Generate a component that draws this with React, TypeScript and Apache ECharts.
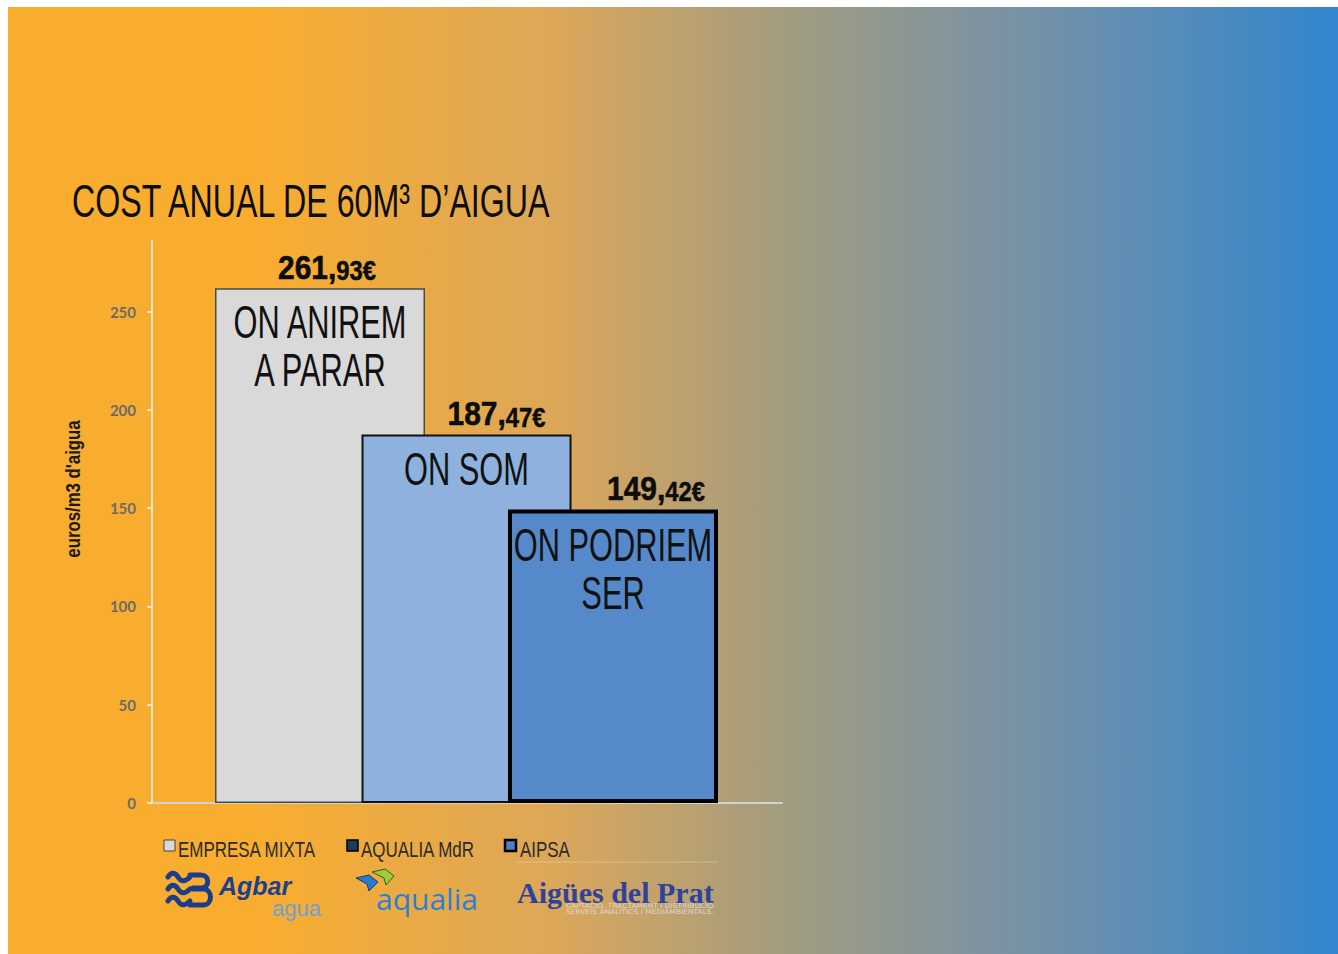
import React, { useEffect, useRef } from "react";
import * as echarts from "echarts";

// ---- data ----
const categories = ["EMPRESA MIXTA", "AQUALIA MdR", "AIPSA"];
const barValues = [261.93, 187.47, 149.42];
const barTexts = ["ON ANIREM\nA PARAR", "ON SOM", "ON PODRIEM\nSER"];
const barPositions = [1, 2, 3];
const yTicks = [0, 50, 100, 150, 200, 250];
const yMax = 286;
const titleText = "COST ANUAL DE 60M³ D’AIGUA";
const yAxisTitle = "euros/m3 d'aigua";

// ---- styles / layout ----
const SANS = "'Liberation Sans', Arial, sans-serif";
const barStyles = [
  { color: "#d9d9d9", borderColor: "#4a4a4a", borderWidth: 1.5 },
  { color: "#8eb1de", borderColor: "#111111", borderWidth: 2 },
  { color: "#5589c9", borderColor: "#000000", borderWidth: 4 },
];
const legendStyles = [
  { fill: "#d9d9d9", stroke: "#444444", lineWidth: 1 },
  { fill: "#1f3a60", stroke: "#000000", lineWidth: 1.5 },
  { fill: "#4d7fc0", stroke: "#000000", lineWidth: 2.5 },
];
const legendIconX = [164, 347, 505];
const legendTextX = [178, 361, 520];
const innerLabelDistance = [10, 11, 12];
const valueLabelOffsets = [7, 30, 43];

echarts.graphic.registerShape(
  "agbarIcon",
  echarts.graphic.extendPath(
    "M168 877 C171 872 175 872 178 877 S185 882 190 877 M168 889 C171 884 175 884 178 889 S185 894 190 889 M168 901 C171 896 175 896 178 901 S185 906 190 901 M190 875 L201 875 C210 875 210 888 201 888 L193 888 M193 889 L203 889 C213 889 213 905 203 905 L190 905",
    {}
  )
);

export default function App() {
  const ref = useRef<HTMLDivElement>(null);
  useEffect(() => {
    if (!ref.current) return;
    const chart = echarts.init(ref.current, null, { renderer: "svg" });
    const barSeries = categories.map((name, i) => ({
      type: "bar",
      name,
      data: [[barPositions[i], barValues[i]]],
      barWidth: 210,
      barGap: "-100%",
      itemStyle: barStyles[i],
      emphasis: { disabled: true },
      silent: true,
    }));
    const labelSeries = {
      type: "custom",
      name: "labels",
      silent: true,
      z: 10,
      encode: { x: 0, y: 1 },
      data: barValues.map((v, i) => [barPositions[i], v, i]),
      renderItem: (params: any, api: any) => {
        const i = api.value(2);
        const v = api.value(1);
        const pt = api.coord([api.value(0), v]);
        const parts = (v as number).toFixed(2).split(".");
        return {
          type: "group",
          children: [
            {
              type: "text",
              x: pt[0] + valueLabelOffsets[i],
              y: pt[1] - 4,
              scaleX: 0.88,
              style: {
                text: `{a|${parts[0]},}{b|${parts[1]}€}`,
                align: "center",
                verticalAlign: "bottom",
                fill: "#0d0d0d",
                rich: {
                  a: { fontFamily: SANS, fontWeight: "bold", fontSize: 34, lineHeight: 34, fill: "#0d0d0d", stroke: "#0d0d0d", lineWidth: 0.6, verticalAlign: "bottom" },
                  b: { fontFamily: SANS, fontWeight: "bold", fontSize: 27, lineHeight: 27, fill: "#0d0d0d", stroke: "#0d0d0d", lineWidth: 0.5, verticalAlign: "bottom" },
                },
              },
            },
            {
              type: "text",
              x: pt[0],
              y: pt[1] + innerLabelDistance[i],
              scaleX: 0.67,
              style: {
                text: barTexts[i],
                fontFamily: SANS,
                fontSize: 46,
                lineHeight: 48,
                fill: "#111111",
                align: "center",
                verticalAlign: "top",
              },
            },
          ],
        };
      },
    };
    const legendGraphics: any[] = [];
    categories.forEach((name, i) => {
      legendGraphics.push({
        type: "rect",
        shape: { x: legendIconX[i], y: 840, width: 11, height: 11 },
        style: legendStyles[i],
      });
      legendGraphics.push({
        type: "text",
        x: legendTextX[i],
        y: 849,
        scaleX: 0.77,
        style: { text: name, fontFamily: SANS, fontSize: 22, fill: "#2b2b2b", align: "left", verticalAlign: "middle" },
      });
    });
    chart.setOption({
      animation: false,
      backgroundColor: "transparent",
      grid: { left: 152, right: 556, top: 241, bottom: 151, containLabel: false, outerBoundsMode: "none" },
      xAxis: {
        type: "value",
        min: -0.1468,
        max: 4.1536,
        axisLine: { show: true, onZero: false, lineStyle: { color: "#d2d2d2", width: 2 } },
        axisTick: { show: false },
        axisLabel: { show: false },
        splitLine: { show: false },
      },
      yAxis: {
        type: "value",
        min: 0,
        max: yMax,
        axisLine: { show: true, onZero: false, lineStyle: { color: "#f2f2f2", width: 1.5 } },
        axisTick: { show: true, length: 5, customValues: yTicks, lineStyle: { color: "#f2f2f2", width: 1.5 } },
        axisLabel: {
          customValues: yTicks,
          color: "#6b6b6b",
          fontSize: 15,
          fontFamily: "Lato, 'Open Sans', sans-serif",
          fontWeight: "bold",
          margin: 16,
        },
        splitLine: { show: false },
      },
      series: [...barSeries, labelSeries],
      graphic: [
        {
          type: "text",
          x: 72,
          y: 201,
          scaleX: 0.7,
          style: { text: titleText, fontFamily: SANS, fontSize: 46, fill: "#0d0d0d", align: "left", verticalAlign: "middle" },
        },
        {
          type: "text",
          x: 73,
          y: 489,
          rotation: Math.PI / 2,
          scaleX: 0.8,
          style: { text: yAxisTitle, fontFamily: SANS, fontWeight: "bold", fontSize: 21, fill: "#1a1a1a", align: "center", verticalAlign: "middle" },
        },
        ...legendGraphics,
        // Agbar logo
        { type: "agbarIcon", x: 0, y: 0, style: { fill: "none", stroke: "#1b3e8c", lineWidth: 5, lineCap: "round", lineJoin: "round" } },
        {
          type: "text",
          x: 219,
          y: 898,
          style: { text: "Agbar", fontFamily: SANS, fontStyle: "italic", fontWeight: "bold", fontSize: 25, fill: "#1d3f8e", align: "left", verticalAlign: "bottom" },
        },
        {
          type: "text",
          x: 272,
          y: 908,
          style: { text: "agua", fontFamily: SANS, fontSize: 22, fill: "#6fa0d8", align: "left", verticalAlign: "middle" },
        },
        // aqualia logo
        { type: "polygon", shape: { points: [[356, 878], [369, 875], [378, 882], [369, 891], [367, 884]] }, style: { fill: "#2b7bd0", stroke: "#1a3a6a", lineWidth: 1 } },
        { type: "polygon", shape: { points: [[372, 872], [385, 869], [394, 876], [386, 885], [384, 878]] }, style: { fill: "#9ccc3c", stroke: "#3a5a1a", lineWidth: 1 } },
        {
          type: "text",
          x: 376,
          y: 898,
          style: { text: "aqualia", fontFamily: "'Open Sans', sans-serif", fontSize: 30, fill: "#2d7fd3", align: "left", verticalAlign: "middle" },
        },
        // Aigues del Prat logo
        { type: "line", shape: { x1: 517, y1: 862, x2: 718, y2: 862 }, style: { stroke: "rgba(255,255,255,0.3)", lineWidth: 1 } },
        {
          type: "text",
          x: 517,
          y: 892,
          style: { text: "Aigües del Prat", fontFamily: "'Liberation Serif', serif", fontWeight: "bold", fontSize: 30, fill: "#2f429c", align: "left", verticalAlign: "middle" },
        },
        {
          type: "text",
          x: 566,
          y: 909,
          scaleX: 1.15,
          style: { text: "CAPTACIÓ, TRACTAMENT I DISTRIBUCIÓ.\nSERVEIS ANALÍTICS I MEDIAMBIENTALS.", fontFamily: "'DejaVu Sans', sans-serif", fontSize: 6.5, lineHeight: 6.5, fill: "rgba(225,228,240,0.8)", align: "left", verticalAlign: "middle" },
        },
      ],
    });
    return () => chart.dispose();
  }, []);
  return (
    <div style={{ position: "absolute", left: 0, top: 0, width: 1338, height: 954, background: "#ffffff", overflow: "hidden" }}>
      <div
        style={{
          position: "absolute",
          left: 8,
          top: 7,
          width: 1330,
          height: 947,
          background:
            "linear-gradient(to right, #f9ad2e 0%, #f8ad2f 19%, #dca759 41%, #a39c7f 58%, #7a92a3 75%, #3286cf 100%)",
        }}
      />
      <div ref={ref} style={{ position: "absolute", left: 0, top: 0, width: 1338, height: 954 }} />
    </div>
  );
}
